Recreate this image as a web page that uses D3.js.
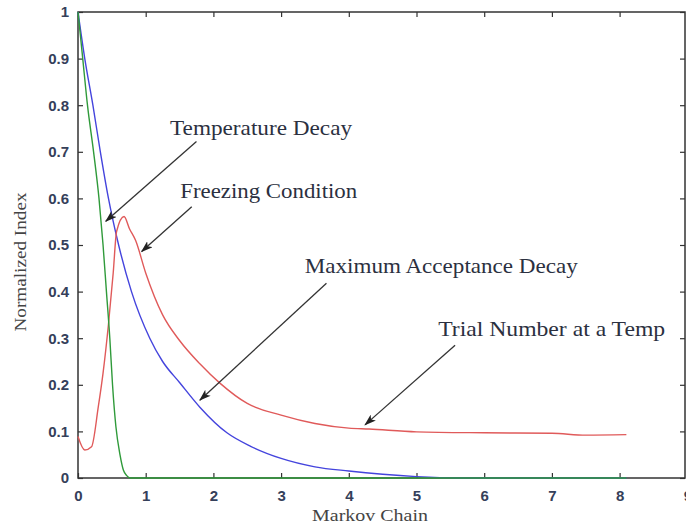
<!DOCTYPE html>
<html>
<head>
<meta charset="utf-8">
<script src="https://cdn.jsdelivr.net/npm/d3@7"></script>
<style>
  body { margin: 0; background: #fff; }
  svg { display: block; }
  .tick text { font-family: "Liberation Sans", Arial, sans-serif; font-size: 15px; font-weight: bold; fill: #35405a; }
  .tick line { stroke: #333; stroke-width: 1.2; }
  .axis-title { font-family: "Liberation Serif", "Times New Roman", serif; font-size: 17px; fill: #444; }
  .note { font-family: "Liberation Serif", "Times New Roman", serif; font-size: 21px; fill: #2b3040; }
</style>
</head>
<body>
<svg id="chart" width="686" height="527"></svg>
<script>
// x ticks / y ticks
var xTicks = [0, 1, 2, 3, 4, 5, 6, 7, 8, 9];
var yTicks = [0, 0.1, 0.2, 0.3, 0.4, 0.5, 0.6, 0.7, 0.8, 0.9, 1];

// Temperature Decay (green)
var tempX = [0, 0.07, 0.14, 0.23, 0.31, 0.37, 0.42, 0.47, 0.51, 0.56, 0.62, 0.67, 0.72, 0.77, 8.1];
var tempY = [1, 0.9, 0.8, 0.7, 0.6, 0.5, 0.4, 0.3, 0.2, 0.11, 0.05, 0.017, 0.005, 0, 0];

// Maximum Acceptance Decay (blue)
var accX = [0, 0.1, 0.22, 0.33, 0.45, 0.6, 0.79, 1.06, 1.25, 1.5, 1.8, 2.2, 2.55, 3.0, 3.5, 4.0, 4.5, 5.0, 5.6, 8.1];
var accY = [1, 0.9, 0.8, 0.7, 0.6, 0.5, 0.4, 0.3, 0.25, 0.205, 0.152, 0.097, 0.068, 0.042, 0.024, 0.015, 0.008, 0.003, 0, 0];

// Trial Number at a Temp (red)
var trialX = [0, 0.1, 0.2, 0.3, 0.37, 0.45, 0.52, 0.57, 0.68, 0.76, 0.85, 1.0, 1.25, 1.5, 1.8, 2.1, 2.5, 3.0, 3.5, 4.0, 4.3, 5.0, 6.0, 7.0, 7.5, 8.1];
var trialY = [0.089, 0.06, 0.067, 0.153, 0.225, 0.33, 0.44, 0.529, 0.561, 0.535, 0.51, 0.44, 0.35, 0.295, 0.245, 0.203, 0.16, 0.135, 0.117, 0.107, 0.105, 0.099, 0.097, 0.096, 0.092, 0.093];

// annotation labels and arrows (tail -> tip, data units)
var noteText = ["Temperature Decay", "Freezing Condition", "Maximum Acceptance Decay", "Trial Number at a Temp"];
var noteTail = [[1.75, 0.722], [1.68, 0.582], [3.67, 0.418], [5.57, 0.285]];
var noteTip  = [[0.41, 0.551], [0.94, 0.486], [1.80, 0.167], [4.24, 0.114]];
var noteAt   = [[1.36, 0.736], [1.51, 0.6], [3.35, 0.44], [5.32, 0.305]];
var noteLen  = [182, 177, 273, 227];

var svg = d3.select("#chart");
var padL = 78, padR = 685, padT = 12, padB = 478;

var x = d3.scaleLinear().domain([0, 9]).range([padL, padL + 9 * 67.7]);
var y = d3.scaleLinear().domain([0, 1]).range([padB, padT]);

function fmt(d){
	return (d === 0 || d === 1) ? String(d) : d.toFixed(1);
}

// ticks, all pointing inward
svg.append("g").attr("transform", "translate(0," + padB + ")")
	.call(d3.axisBottom(x).tickValues(xTicks).tickSizeInner(-5).tickSizeOuter(0).tickPadding(12))
	.call(function(g){ g.select(".domain").remove(); });
svg.append("g").attr("transform", "translate(0," + padT + ")")
	.call(d3.axisTop(x).tickValues(xTicks).tickSizeInner(-5).tickSizeOuter(0).tickFormat(""))
	.call(function(g){ g.select(".domain").remove(); });
svg.append("g").attr("transform", "translate(" + padL + ",0)")
	.call(d3.axisLeft(y).tickValues(yTicks).tickSizeInner(-5).tickSizeOuter(0).tickPadding(9).tickFormat(fmt))
	.call(function(g){ g.select(".domain").remove(); });
svg.append("g").attr("transform", "translate(" + padR + ",0)")
	.call(d3.axisRight(y).tickValues(yTicks).tickSizeInner(-5).tickSizeOuter(0).tickFormat(""))
	.call(function(g){ g.select(".domain").remove(); });

// the box
svg.append("rect")
	.attr("x", padL).attr("y", padT)
	.attr("width", padR - padL).attr("height", padB - padT)
	.attr("fill", "none").attr("stroke", "#333").attr("stroke-width", 1.5);

var line = d3.line()
	.curve(d3.curveMonotoneX)
	.x(function(d){ return x(d[0]); })
	.y(function(d){ return y(d[1]); });

function pairs(xs, ys){
	return xs.map(function(v, i){ return [v, ys[i]]; });
}

var series = [
	{ pts: pairs(accX, accY), color: "#4444dd" },
	{ pts: pairs(trialX, trialY), color: "#e05a5a" },
	{ pts: pairs(tempX, tempY), color: "#2f9a3a" }
];

svg.selectAll(".series").data(series).enter()
	.append("path")
	.attr("class", "series")
	.attr("d", function(d){ return line(d.pts); })
	.attr("fill", "none")
	.attr("stroke", function(d){ return d.color; })
	.attr("stroke-width", 1.4);

// arrow head
svg.append("defs").append("marker")
	.attr("id", "head")
	.attr("viewBox", "0 0 12 8")
	.attr("refX", 11).attr("refY", 4)
	.attr("markerWidth", 12).attr("markerHeight", 8)
	.attr("markerUnits", "userSpaceOnUse")
	.attr("orient", "auto")
	.append("path")
	.attr("d", "M0,0 L12,4 L0,8 L3,4 Z")
	.attr("fill", "#222");

noteText.forEach(function(t, i){
	svg.append("line")
		.attr("x1", x(noteTail[i][0])).attr("y1", y(noteTail[i][1]))
		.attr("x2", x(noteTip[i][0])).attr("y2", y(noteTip[i][1]))
		.attr("stroke", "#333").attr("stroke-width", 1.3)
		.attr("marker-end", "url(#head)");
	svg.append("text")
		.attr("class", "note")
		.attr("x", x(noteAt[i][0])).attr("y", y(noteAt[i][1]))
		.attr("textLength", noteLen[i])
		.attr("lengthAdjust", "spacingAndGlyphs")
		.text(t);
});

// axis titles
svg.append("text")
	.attr("class", "axis-title")
	.attr("x", 370).attr("y", 521)
	.attr("text-anchor", "middle")
	.attr("textLength", 116).attr("lengthAdjust", "spacingAndGlyphs")
	.text("Markov Chain");

svg.append("text")
	.attr("class", "axis-title")
	.attr("transform", "translate(26,262) rotate(-90)")
	.attr("text-anchor", "middle")
	.attr("textLength", 139).attr("lengthAdjust", "spacingAndGlyphs")
	.text("Normalized Index");
</script>
</body>
</html>
